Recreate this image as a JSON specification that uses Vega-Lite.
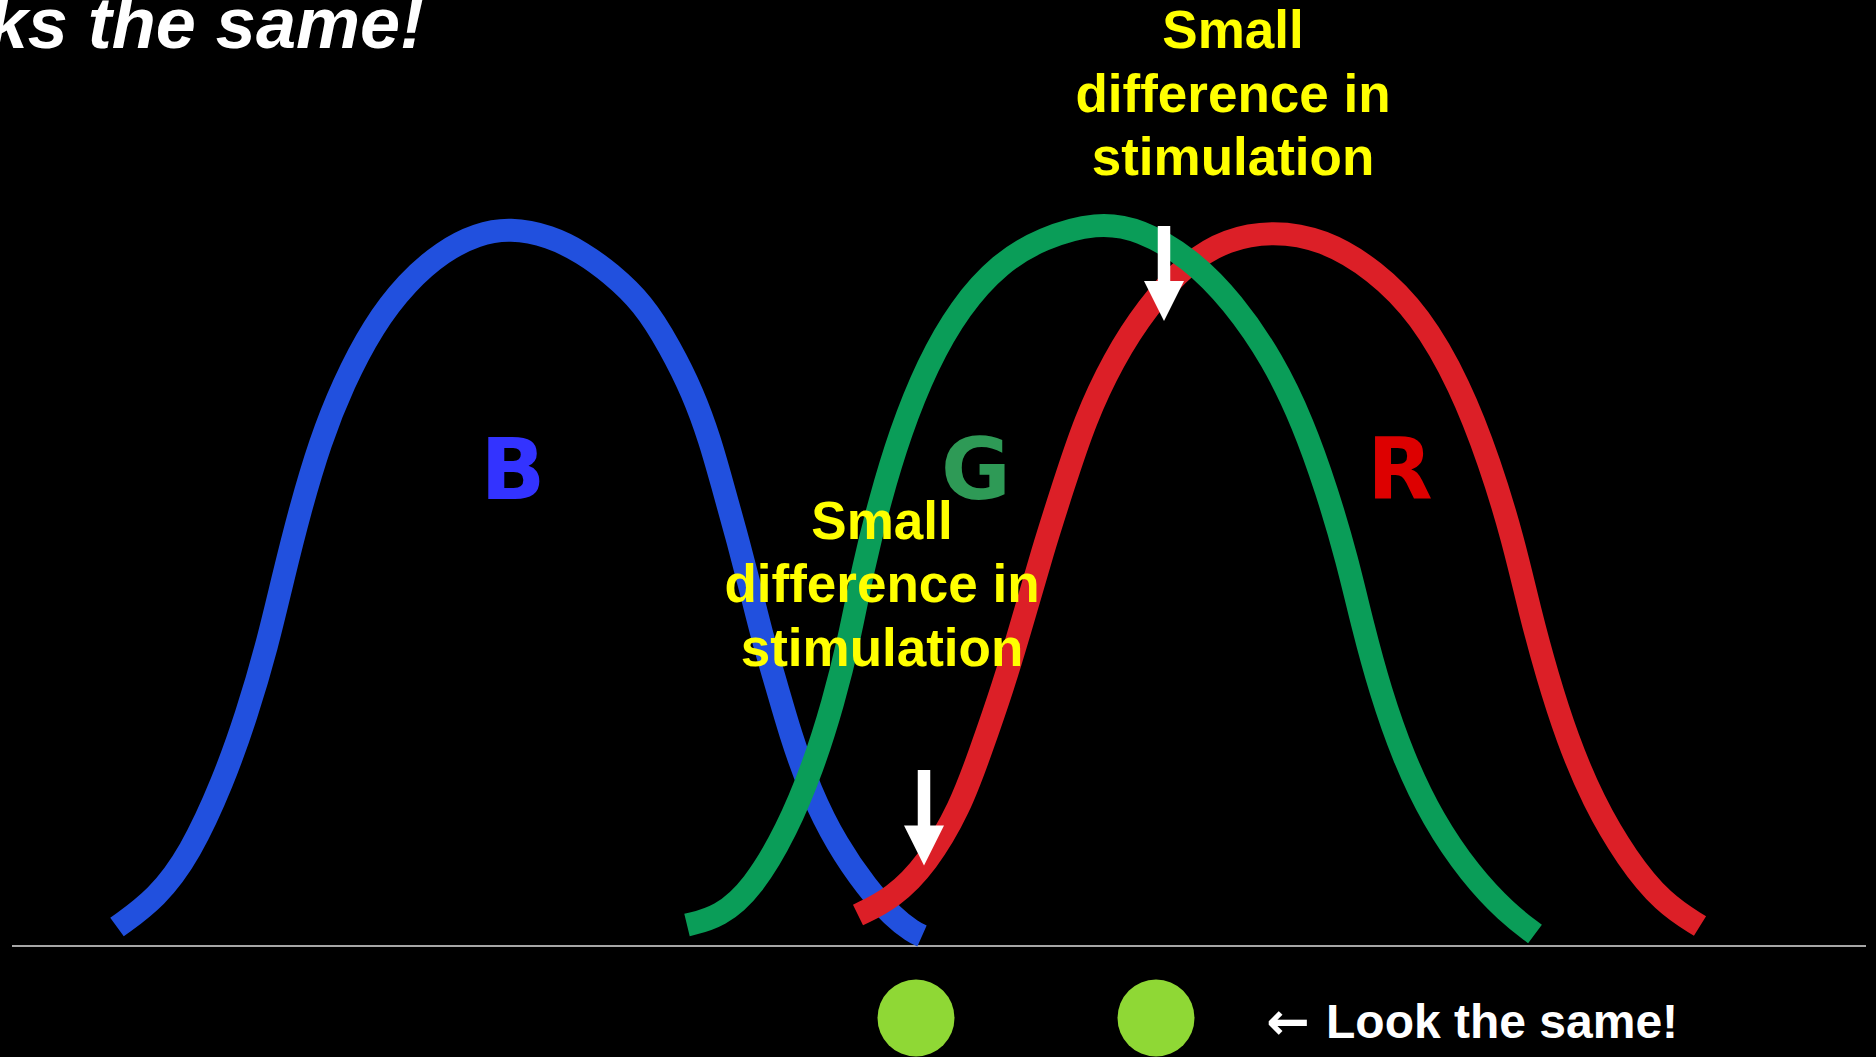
{
  "$schema": "https://vega.github.io/schema/vega-lite/v6.json",
  "width": 1876,
  "height": 1057,
  "autosize": {"type": "fit", "contains": "padding"},
  "padding": 0,
  "background": "#000000",
  "config": {"view": {"stroke": null}},
  "datasets": {
    "baseline": [{"x": 352.4, "x2": 723.2, "y": 0}],
    "blue": [
      {"x": 373.4, "y": 2.62}, {"x": 381.4, "y": 6.63}, {"x": 388.0, "y": 12.71}, {"x": 394.6, "y": 22.65},
      {"x": 399.4, "y": 32.04}, {"x": 403.4, "y": 41.44}, {"x": 406.6, "y": 50.83}, {"x": 410.0, "y": 60.22},
      {"x": 414.0, "y": 69.61}, {"x": 418.6, "y": 77.62}, {"x": 424.6, "y": 85.64}, {"x": 431.4, "y": 91.71},
      {"x": 438.6, "y": 95.99}, {"x": 445.4, "y": 98.34}, {"x": 452.0, "y": 99.17}, {"x": 460.0, "y": 98.07},
      {"x": 466.6, "y": 95.72}, {"x": 472.0, "y": 93.0}, {"x": 478.6, "y": 88.81}, {"x": 484.0, "y": 82.73},
      {"x": 488.6, "y": 76.38}, {"x": 492.0, "y": 69.89}, {"x": 494.6, "y": 63.40}, {"x": 497.4, "y": 56.49},
      {"x": 500.0, "y": 49.59}, {"x": 502.6, "y": 42.27}, {"x": 505.4, "y": 35.77}, {"x": 508.0, "y": 29.42},
      {"x": 512.0, "y": 21.41}, {"x": 517.4, "y": 13.95}, {"x": 523.4, "y": 8.01}, {"x": 528.6, "y": 4.01},
      {"x": 532.6, "y": 1.93}, {"x": 534.4, "y": 1.38}
    ],
    "red": [
      {"x": 521.6, "y": 4.28}, {"x": 528.6, "y": 6.63}, {"x": 535.4, "y": 11.33}, {"x": 542.0, "y": 19.06},
      {"x": 546.0, "y": 26.66}, {"x": 550.6, "y": 35.77}, {"x": 554.6, "y": 45.03}, {"x": 558.4, "y": 54.28},
      {"x": 562.6, "y": 63.40}, {"x": 567.0, "y": 72.65}, {"x": 572.6, "y": 80.94}, {"x": 579.4, "y": 88.26},
      {"x": 587.4, "y": 94.34}, {"x": 595.4, "y": 97.65}, {"x": 604.6, "y": 98.76}, {"x": 614.6, "y": 97.65},
      {"x": 625.0, "y": 93.37}, {"x": 634.0, "y": 87.15}, {"x": 642.0, "y": 77.49}, {"x": 648.0, "y": 66.7},
      {"x": 652.6, "y": 56.22}, {"x": 656.0, "y": 46.13}, {"x": 659.4, "y": 37.43}, {"x": 663.4, "y": 28.73},
      {"x": 668.6, "y": 20.03}, {"x": 675.4, "y": 12.02}, {"x": 682.6, "y": 5.94}, {"x": 690.0, "y": 2.76}
    ],
    "green": [
      {"x": 487.4, "y": 2.90}, {"x": 494.0, "y": 4.01}, {"x": 500.6, "y": 8.01}, {"x": 507.4, "y": 16.02},
      {"x": 512.6, "y": 24.72}, {"x": 516.6, "y": 33.43}, {"x": 520.0, "y": 42.82}, {"x": 522.6, "y": 52.21},
      {"x": 526.0, "y": 61.60}, {"x": 530.0, "y": 70.86}, {"x": 535.4, "y": 80.25}, {"x": 542.0, "y": 88.26},
      {"x": 550.0, "y": 94.34}, {"x": 558.4, "y": 97.79}, {"x": 569.4, "y": 100.0}, {"x": 578.0, "y": 99.03},
      {"x": 588.0, "y": 95.03}, {"x": 596.6, "y": 88.95}, {"x": 604.6, "y": 80.94}, {"x": 610.6, "y": 72.24},
      {"x": 615.4, "y": 62.85}, {"x": 619.4, "y": 53.45}, {"x": 622.6, "y": 44.06}, {"x": 626.0, "y": 35.36},
      {"x": 630.6, "y": 26.10}, {"x": 636.6, "y": 17.40}, {"x": 644.0, "y": 9.94}, {"x": 651.4, "y": 4.56},
      {"x": 657.0, "y": 1.66}
    ],
    "labels": [
      {"label": "B", "x": 452.6, "y": 61.74},
      {"label": "G", "x": 545.2, "y": 61.74},
      {"label": "R", "x": 630.0, "y": 61.74}
    ],
    "notes": [
      {"lines": ["Small", "difference in", "stimulation"], "x": 596.6, "y": 124.03},
      {"lines": ["Small", "difference in", "stimulation"], "x": 526.4, "y": 56.22}
    ],
    "shafts": [
      {"x": 582.8, "y": 99.45, "y2": 91.30},
      {"x": 534.8, "y": 24.31, "y2": 16.02}
    ],
    "heads": [
      {"x": 582.8, "y": 89.09},
      {"x": 534.8, "y": 13.88}
    ],
    "dots": [
      {"x": 533.2, "y": -9.94},
      {"x": 581.2, "y": -9.94}
    ],
    "arrowsign": [{"text": "←", "x": 603.2, "y": -12.9}],
    "caption": [{"text": "Look the same!", "x": 615.2, "y": -12.71}],
    "heading": [{"text": "Looks the same!", "x": 434.8, "y": 124.03}]
  },
  "encoding": {
    "x": {"field": "x", "type": "quantitative", "scale": {"domain": [350, 725.2], "nice": false, "zero": false}, "axis": null},
    "y": {"field": "y", "type": "quantitative", "scale": {"domain": [-15.331, 130.663], "nice": false, "zero": false}, "axis": null}
  },
  "layer": [
    {
      "data": {"name": "baseline"},
      "mark": {"type": "rule", "color": "#A6A6A6", "strokeWidth": 2},
      "encoding": {"x2": {"field": "x2"}}
    },
    {
      "data": {"name": "blue"},
      "mark": {"type": "line", "color": "#2150DE", "strokeWidth": 23, "interpolate": "basis", "strokeCap": "butt"},
      "encoding": {}
    },
    {
      "data": {"name": "red"},
      "mark": {"type": "line", "color": "#DC1F27", "strokeWidth": 23, "interpolate": "basis", "strokeCap": "butt"},
      "encoding": {}
    },
    {
      "data": {"name": "green"},
      "mark": {"type": "line", "color": "#0A9D58", "strokeWidth": 23, "interpolate": "basis", "strokeCap": "butt"},
      "encoding": {}
    },
    {
      "data": {"name": "labels"},
      "mark": {"type": "text", "font": "DejaVu Sans", "fontWeight": "bold", "fontSize": 85, "align": "center", "baseline": "alphabetic"},
      "encoding": {
        "text": {"field": "label", "type": "nominal"},
        "color": {"field": "label", "type": "nominal", "scale": {"domain": ["B", "G", "R"], "range": ["#3333FF", "#2E9A56", "#DD0000"]}, "legend": null}
      }
    },
    {
      "data": {"name": "notes"},
      "mark": {"type": "text", "font": "Liberation Sans", "fontWeight": "bold", "fontSize": 53, "lineHeight": 63.5, "align": "center", "baseline": "alphabetic", "color": "#FFFF00"},
      "encoding": {"text": {"field": "lines", "type": "nominal"}}
    },
    {
      "data": {"name": "shafts"},
      "mark": {"type": "rule", "color": "#FFFFFF", "strokeWidth": 12.5, "strokeCap": "butt"},
      "encoding": {"y2": {"field": "y2"}}
    },
    {
      "data": {"name": "heads"},
      "mark": {"type": "point", "shape": "M-1,-1L1,-1L0,1Z", "size": 1600, "filled": true, "color": "#FFFFFF", "opacity": 1, "strokeWidth": 0}
    },
    {
      "data": {"name": "dots"},
      "mark": {"type": "point", "shape": "circle", "size": 5929, "filled": true, "color": "#8FD835", "opacity": 1, "strokeWidth": 0}
    },
    {
      "data": {"name": "arrowsign"},
      "mark": {"type": "text", "font": "DejaVu Sans", "fontWeight": "bold", "fontSize": 52, "align": "left", "baseline": "alphabetic", "color": "#FFFFFF"},
      "encoding": {"text": {"field": "text", "type": "nominal"}}
    },
    {
      "data": {"name": "caption"},
      "mark": {"type": "text", "font": "Liberation Sans", "fontWeight": "bold", "fontSize": 48, "align": "left", "baseline": "alphabetic", "color": "#FFFFFF"},
      "encoding": {"text": {"field": "text", "type": "nominal"}}
    },
    {
      "data": {"name": "heading"},
      "mark": {"type": "text", "clip": true, "font": "Liberation Sans", "fontWeight": "bold", "fontStyle": "italic", "fontSize": 72, "align": "right", "baseline": "alphabetic", "color": "#FFFFFF"},
      "encoding": {"text": {"field": "text", "type": "nominal"}}
    }
  ]
}
